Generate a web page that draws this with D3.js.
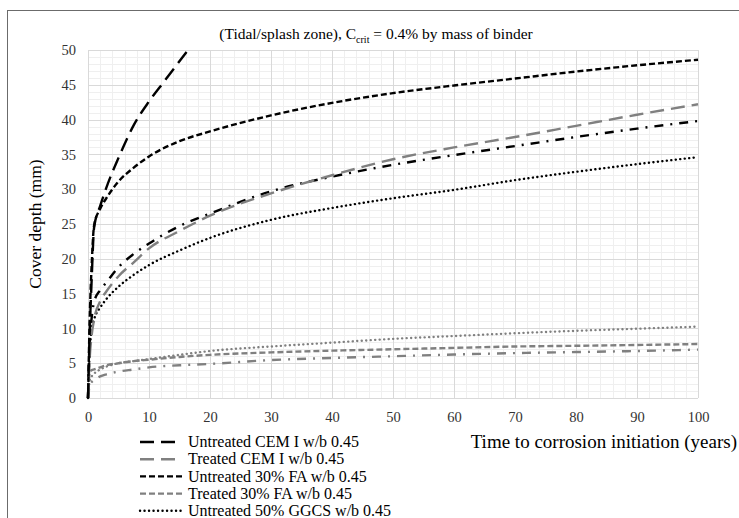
<!DOCTYPE html>
<html><head><meta charset="utf-8">
<script src="https://cdn.jsdelivr.net/npm/d3@7/dist/d3.min.js"></script>
<style>body{margin:0;background:#fff}svg{display:block}text{font-family:"Liberation Serif","Times New Roman",serif}</style>
</head><body><svg id="c" width="739" height="518"></svg>
<script>
// ---- data ----
const years = [0, 0.3, 0.6, 1, 2, 3, 5, 7.5, 10, 15, 20, 30, 40, 50, 60, 70, 80, 90, 100];
const yearsUntreatedCEM = [0, 0.3, 0.6, 1, 2, 3, 5, 7.5, 10, 12.5, 16.4];
const untreatedCEM = [0, 10, 17, 24.5, 27.6, 30.2, 34.5, 39.2, 42.6, 45.5, 50];
const treatedCEM = [0, 6, 9, 11.3, 13.9, 15.3, 17.5, 19.5, 21.5, 24.0, 26.2, 29.4, 32.0, 34.3, 36.0, 37.5, 39.1, 40.7, 42.2];
const untreatedFA = [0, 12, 19, 24.8, 27.2, 28.7, 31.1, 33.1, 34.7, 36.9, 38.3, 40.6, 42.4, 43.8, 44.9, 45.9, 46.9, 47.8, 48.6];
const treatedFA = [0, 3.8, 4.0, 4.1, 4.4, 4.7, 5.0, 5.3, 5.5, 5.9, 6.2, 6.55, 6.8, 7.0, 7.2, 7.4, 7.5, 7.62, 7.75];
const untreatedGGCS = [0, 7, 9.8, 11.3, 13.0, 14.2, 16.0, 17.7, 19.1, 21.2, 23.0, 25.6, 27.3, 28.7, 29.9, 31.3, 32.5, 33.6, 34.6];
const treatedGGCS = [0, 2.6, 3.1, 3.5, 4.1, 4.5, 5.0, 5.3, 5.6, 6.2, 6.75, 7.4, 7.95, 8.5, 8.9, 9.3, 9.65, 9.95, 10.25];
const untreatedDashDot = [0, 8, 11.5, 13.8, 15.5, 16.6, 18.8, 20.7, 22.2, 24.7, 26.5, 29.7, 31.8, 33.5, 34.9, 36.2, 37.5, 38.7, 39.8];
const treatedDashDot = [0, 1.9, 2.3, 2.6, 3.1, 3.4, 3.8, 4.1, 4.4, 4.7, 4.9, 5.45, 5.75, 6.0, 6.25, 6.45, 6.6, 6.75, 6.95];
const xTicks = [0, 10, 20, 30, 40, 50, 60, 70, 80, 90, 100];
const yTicks = [0, 5, 10, 15, 20, 25, 30, 35, 40, 45, 50];
const legendLabels = ["Untreated CEM I w/b 0.45", "Treated CEM I w/b 0.45", "Untreated 30% FA w/b 0.45", "Treated 30% FA w/b 0.45", "Untreated 50% GGCS w/b 0.45"];

// ---- styles ----
const BLACK = "#000", GREY = "#808080";
const LONG = "14,7", SHORT = "6,3", DOT = "0.1,4.4", DASHDOT = "9,7,2,7";
const series = [
  {x: yearsUntreatedCEM, y: untreatedCEM, c: BLACK, d: LONG, cap: "butt"},
  {x: years, y: treatedCEM, c: GREY, d: LONG, cap: "butt"},
  {x: years, y: untreatedFA, c: BLACK, d: SHORT, cap: "butt"},
  {x: years, y: treatedFA, c: GREY, d: SHORT, cap: "butt"},
  {x: years, y: untreatedGGCS, c: BLACK, d: DOT, cap: "round"},
  {x: years, y: treatedGGCS, c: GREY, d: DOT, cap: "round"},
  {x: years, y: untreatedDashDot, c: BLACK, d: DASHDOT, cap: "butt"},
  {x: years, y: treatedDashDot, c: GREY, d: DASHDOT, cap: "butt"}
];

const svg = d3.select("#c");
svg.append("rect").attr("width", 739).attr("height", 518).attr("fill", "#fff");
svg.append("rect").attr("x", 7.5).attr("y", 10.5).attr("width", 760).attr("height", 540)
  .attr("fill", "none").attr("stroke", "#6b6b6b").attr("stroke-width", 1);

const x = d3.scaleLinear().domain([0, 100]).range([88, 698]);
const y = d3.scaleLinear().domain([0, 50]).range([398, 50]);

const g = svg.append("g");
// minor grid
g.selectAll(".mx").data(d3.range(0, 101, 2)).join("line")
  .attr("x1", d => Math.round(x(d)) + 0.5).attr("x2", d => Math.round(x(d)) + 0.5)
  .attr("y1", y(0)).attr("y2", y(50)).attr("stroke", "#efefef");
g.selectAll(".my").data(d3.range(0, 51, 1)).join("line")
  .attr("y1", d => Math.round(y(d)) + 0.5).attr("y2", d => Math.round(y(d)) + 0.5)
  .attr("x1", x(0)).attr("x2", x(100)).attr("stroke", "#efefef");
// major grid
g.selectAll(".Mx").data(xTicks).join("line")
  .attr("x1", d => Math.round(x(d)) + 0.5).attr("x2", d => Math.round(x(d)) + 0.5)
  .attr("y1", y(0)).attr("y2", y(50)).attr("stroke", "#d9d9d9");
g.selectAll(".My").data(yTicks).join("line")
  .attr("y1", d => Math.round(y(d)) + 0.5).attr("y2", d => Math.round(y(d)) + 0.5)
  .attr("x1", x(0)).attr("x2", x(100)).attr("stroke", "#d9d9d9");

// axes (labels only)
const xa = svg.append("g").attr("transform", "translate(0,398)")
  .call(d3.axisBottom(x).tickValues(xTicks).tickSize(0).tickPadding(14));
const ya = svg.append("g").attr("transform", "translate(88,0)")
  .call(d3.axisLeft(y).tickValues(yTicks).tickSize(0).tickPadding(12));
[xa, ya].forEach(a => {
  a.select(".domain").remove();
  a.selectAll("text").attr("font-size", 14.5).attr("fill", "#333");
});

// curves
svg.append("clipPath").attr("id", "pc").append("rect")
  .attr("x", 80).attr("y", 50).attr("width", 630).attr("height", 352);
const line = d3.line().curve(d3.curveMonotoneX);
const cg = svg.append("g").attr("clip-path", "url(#pc)");
series.slice().reverse().forEach(s => {
  cg.append("path").attr("d", line(s.x.map((t, i) => [x(t), y(s.y[i])])))
    .attr("fill", "none").attr("stroke", s.c).attr("stroke-width", 2.4)
    .attr("stroke-dasharray", s.d).attr("stroke-linecap", s.cap);
});

// title
const title = svg.append("text").attr("x", 376).attr("y", 39).attr("text-anchor", "middle")
  .attr("font-size", 15.5).attr("fill", "#000");
title.append("tspan").text("(Tidal/splash zone), C");
title.append("tspan").attr("font-size", 10).attr("dy", 4).text("crit");
title.append("tspan").attr("dy", -4).text(" = 0.4% by mass of binder");

// axis titles
svg.append("text").attr("transform", "translate(41,224) rotate(-90)").attr("text-anchor", "middle")
  .attr("font-size", 17.5).attr("fill", "#000").text("Cover depth (mm)");
svg.append("text").attr("x", 737).attr("y", 448).attr("text-anchor", "end")
  .attr("font-size", 19).attr("fill", "#000").text("Time to corrosion initiation (years)");

// legend
const lg = svg.append("g");
legendLabels.forEach((lab, i) => {
  const s = series[i], yy = 442 + i * 17.2;
  lg.append("line").attr("x1", 140).attr("x2", 182).attr("y1", yy).attr("y2", yy)
    .attr("stroke", s.c).attr("stroke-width", 2.4).attr("stroke-dasharray", s.d).attr("stroke-linecap", s.cap);
  lg.append("text").attr("x", 188).attr("y", yy).attr("dy", "0.33em")
    .attr("font-size", 16).attr("fill", "#000").text(lab);
});
</script></body></html>
